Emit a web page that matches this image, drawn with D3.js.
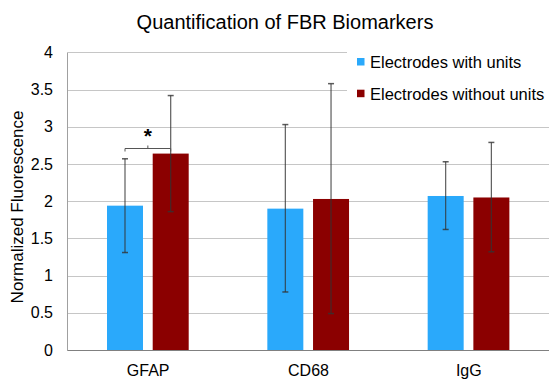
<!DOCTYPE html>
<html>
<head>
<meta charset="utf-8">
<script src="https://cdn.jsdelivr.net/npm/d3@7"></script>
<style>
  body { margin: 0; background: #fff; }
  text { font-family: "Liberation Sans", Arial, sans-serif; fill: #000; }
</style>
</head>
<body>
<svg width="549" height="379"></svg>
<script>
var categories = ["GFAP", "CD68", "IgG"];
var seriesNames = ["Electrodes with units", "Electrodes without units"];
var withUnits = [1.94, 1.90, 2.07];
var withUnitsErrHi = [2.57, 3.03, 2.53];
var withUnitsErrLo = [1.31, 0.78, 1.62];
var withoutUnits = [2.64, 2.03, 2.05];
var withoutUnitsErrHi = [3.42, 3.58, 2.79];
var withoutUnitsErrLo = [1.86, 0.49, 1.32];
var yTicks = [0, 0.5, 1, 1.5, 2, 2.5, 3, 3.5, 4];
var colors = ["#2aa9fb", "#8b0000"];

var svg = d3.select("svg"),
    margin = {left: 68, right: 0, top: 52, bottom: 29},
    width = +svg.attr("width"),
    height = +svg.attr("height");

var x = d3.scaleBand()
    .domain(categories)
    .range([margin.left, width]);

// offsets of the two bars inside a category band
var x1 = d3.scaleOrdinal()
    .domain([0, 1])
    .range([39, 84.7]);
var barW = 36;

var y = d3.scaleLinear()
    .domain([0, 4])
    .range([height - margin.bottom, margin.top + 0.4]);

// gridlines
svg.append("g")
  .selectAll("line")
  .data(yTicks.slice(1))
  .enter().append("line")
    .attr("x1", margin.left)
    .attr("x2", width)
    .attr("y1", d => Math.round(y(d)) + 0.5)
    .attr("y2", d => Math.round(y(d)) + 0.5)
    .attr("stroke", "#c6c6c6")
    .attr("stroke-width", 1.2);

// y axis labels
var yAxis = d3.axisLeft(y).tickValues(yTicks).tickSize(0).tickPadding(15).tickFormat(d => d);
svg.append("g")
    .attr("transform", "translate(" + margin.left + ",0)")
    .call(yAxis)
    .call(g => g.select(".domain").remove())
    .selectAll("text")
    .style("font-size", "16px")
    .attr("font-family", null);

var data = categories.map((c, i) => ({
  cat: c,
  vals: [
    {s: 0, v: withUnits[i], hi: withUnitsErrHi[i], lo: withUnitsErrLo[i]},
    {s: 1, v: withoutUnits[i], hi: withoutUnitsErrHi[i], lo: withoutUnitsErrLo[i]}
  ]
}));

var groups = svg.append("g").selectAll("g")
  .data(data)
  .enter().append("g")
    .attr("transform", d => "translate(" + x(d.cat) + ",0)");

groups.selectAll("rect")
  .data(d => d.vals)
  .enter().append("rect")
    .attr("x", d => x1(d.s))
    .attr("width", barW)
    .attr("y", d => y(d.v))
    .attr("height", d => y(0) - y(d.v))
    .attr("fill", d => colors[d.s]);

// error bars
var err = groups.selectAll("g.err")
  .data(d => d.vals)
  .enter().append("g")
    .attr("class", "err")
    .attr("transform", d => "translate(" + (x1(d.s) + barW / 2) + ",0)");

err.append("line")
    .attr("y1", d => y(d.lo))
    .attr("y2", d => y(d.hi))
    .attr("stroke", "#333")
    .attr("stroke-opacity", 0.8)
    .attr("stroke-width", 1.2);
err.selectAll("line.cap")
  .data(d => [d.lo, d.hi])
  .enter().append("line")
    .attr("class", "cap")
    .attr("x1", -3).attr("x2", 3)
    .attr("y1", d => y(d)).attr("y2", d => y(d))
    .attr("stroke", "#333")
    .attr("stroke-opacity", 0.8)
    .attr("stroke-width", 1.5);

// axes lines
svg.append("line")
    .attr("x1", margin.left).attr("x2", width)
    .attr("y1", y(0) + 0.5).attr("y2", y(0) + 0.5)
    .attr("stroke", "#808080").attr("stroke-width", 1.2);
svg.append("line")
    .attr("x1", margin.left - 0.5).attr("x2", margin.left - 0.5)
    .attr("y1", y(4)).attr("y2", y(0) + 1)
    .attr("stroke", "#a0a0a0").attr("stroke-width", 1);

svg.append("g").selectAll("text")
  .data(categories)
  .enter().append("text")
    .attr("x", d => x(d) + x.bandwidth() / 2)
    .attr("y", 376)
    .attr("text-anchor", "middle")
    .style("font-size", "16px")
    .text(d => d);

// significance bracket on GFAP
var gx = x("GFAP");
var bx1 = gx + x1(0) + barW / 2, bx2 = gx + x1(1) + barW / 2, by = 148.5;
svg.append("path")
    .attr("d", "M" + bx1 + "," + (by + 3) + "V" + by + "H" + bx2 + "V" + (by + 3)
        + "M" + (bx1 + bx2) / 2 + "," + by + "V" + (by - 3))
    .attr("fill", "none")
    .attr("stroke", "#555")
    .attr("stroke-width", 1);
svg.append("text")
    .attr("x", (bx1 + bx2) / 2)
    .attr("y", 143)
    .attr("text-anchor", "middle")
    .style("font-size", "21px")
    .style("font-weight", "bold")
    .text("*");

// legend
var legend = svg.append("g");
legend.append("rect")
    .attr("x", 347).attr("y", 45)
    .attr("width", 202).attr("height", 66)
    .attr("fill", "#fff");
var li = legend.selectAll("g")
  .data(seriesNames)
  .enter().append("g")
    .attr("transform", (d, i) => "translate(357," + (58 + i * 31.7) + ")");
li.append("rect")
    .attr("width", 7.5).attr("height", 7.5)
    .attr("fill", (d, i) => colors[i]);
li.append("text")
    .attr("x", 13).attr("y", 10)
    .style("font-size", "16.5px")
    .text(d => d);

// titles
svg.append("text")
    .attr("x", 285).attr("y", 29)
    .attr("text-anchor", "middle")
    .style("font-size", "20px")
    .text("Quantification of FBR Biomarkers");
svg.append("text")
    .attr("transform", "translate(23,207) rotate(-90)")
    .attr("text-anchor", "middle")
    .style("font-size", "17px")
    .text("Normalized Fluorescence");
</script>
</body>
</html>
